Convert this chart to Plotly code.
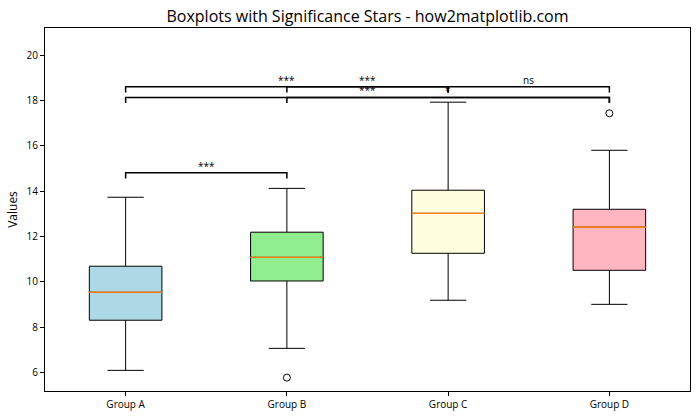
import plotly.graph_objects as go

groups = ["Group A", "Group B", "Group C", "Group D"]
positions = [1, 2, 3, 4]
q1 = [8.31, 10.04, 11.26, 10.51]
median = [9.54, 11.08, 13.02, 12.41]
q3 = [10.69, 12.19, 14.04, 13.20]
lower_whisker = [6.10, 7.07, 9.19, 9.01]
upper_whisker = [13.73, 14.12, 17.92, 15.80]
box_colors = ["lightblue", "lightgreen", "lightyellow", "lightpink"]

outlier_x = [2, 4]
outlier_y = [5.78, 17.43]

# significance brackets: (group i, group j, base height, label)
pair_i = [1, 1, 1, 2, 2, 3]
pair_j = [2, 3, 4, 3, 4, 4]
bracket_y = [14.56, 18.35, 17.88, 18.35, 17.88, 18.35]
bracket_h = 0.25
bracket_label = ["***", "***", "***", "***", "*", "ns"]

FONT = "Open Sans"
fig = go.Figure()

for k in range(len(groups)):
    fig.add_trace(go.Box(
        x=[positions[k]], q1=[q1[k]], median=[median[k]], q3=[q3[k]],
        lowerfence=[lower_whisker[k]], upperfence=[upper_whisker[k]],
        width=0.45, whiskerwidth=0.5, fillcolor=box_colors[k],
        line=dict(color="black", width=1), boxpoints=False, showlegend=False,
        hoverinfo="skip"))

# orange median lines
fig.add_trace(go.Box(
    x=positions, q1=median, median=median, q3=median,
    lowerfence=median, upperfence=median, width=0.45, whiskerwidth=0,
    fillcolor="rgba(0,0,0,0)", line=dict(color="#ff7f0e", width=1),
    boxpoints=False, showlegend=False, hoverinfo="skip"))

# outliers
fig.add_trace(go.Scatter(
    x=outlier_x, y=outlier_y, mode="markers",
    marker=dict(symbol="circle-open", size=7, color="black", line=dict(width=1)),
    showlegend=False, hoverinfo="skip"))

for i, j, y, lab in zip(pair_i, pair_j, bracket_y, bracket_label):
    fig.add_trace(go.Scatter(
        x=[i, i, j, j], y=[y, y + bracket_h, y + bracket_h, y], mode="lines",
        line=dict(color="black", width=1.5), showlegend=False, hoverinfo="skip"))
    fig.add_annotation(x=(i + j) / 2, y=y + bracket_h, text=lab, showarrow=False,
                       xanchor="center", yanchor="bottom", yshift=-2,
                       font=dict(family=FONT, size=10, color="black"))

fig.update_layout(
    width=700, height=420,
    margin=dict(l=45, r=10, t=28, b=29),
    paper_bgcolor="white", plot_bgcolor="white",
    boxmode="overlay",
    title=dict(text="Boxplots with Significance Stars - how2matplotlib.com",
               x=0.525, xanchor="center", y=1 - 16 / 420, yanchor="middle",
               yref="container", font=dict(family=FONT, size=16, color="black")),
    font=dict(family=FONT, color="black"),
)
fig.update_xaxes(range=[0.5, 4.5], tickvals=positions, ticktext=groups,
                 showgrid=False, zeroline=False, showline=True, mirror=True,
                 linecolor="black", linewidth=1, ticks="outside", ticklen=4,
                 tickcolor="black", tickfont=dict(family=FONT, size=10))
fig.update_yaxes(range=[5.19, 21.19], tickvals=[6, 8, 10, 12, 14, 16, 18, 20],
                 showgrid=False, zeroline=False, showline=True, mirror=True,
                 linecolor="black", linewidth=1, ticks="outside", ticklen=4,
                 tickcolor="black", tickfont=dict(family=FONT, size=10),
                 title=dict(text="Values", font=dict(family=FONT, size=12), standoff=6))

fig.write_html("out.html")
